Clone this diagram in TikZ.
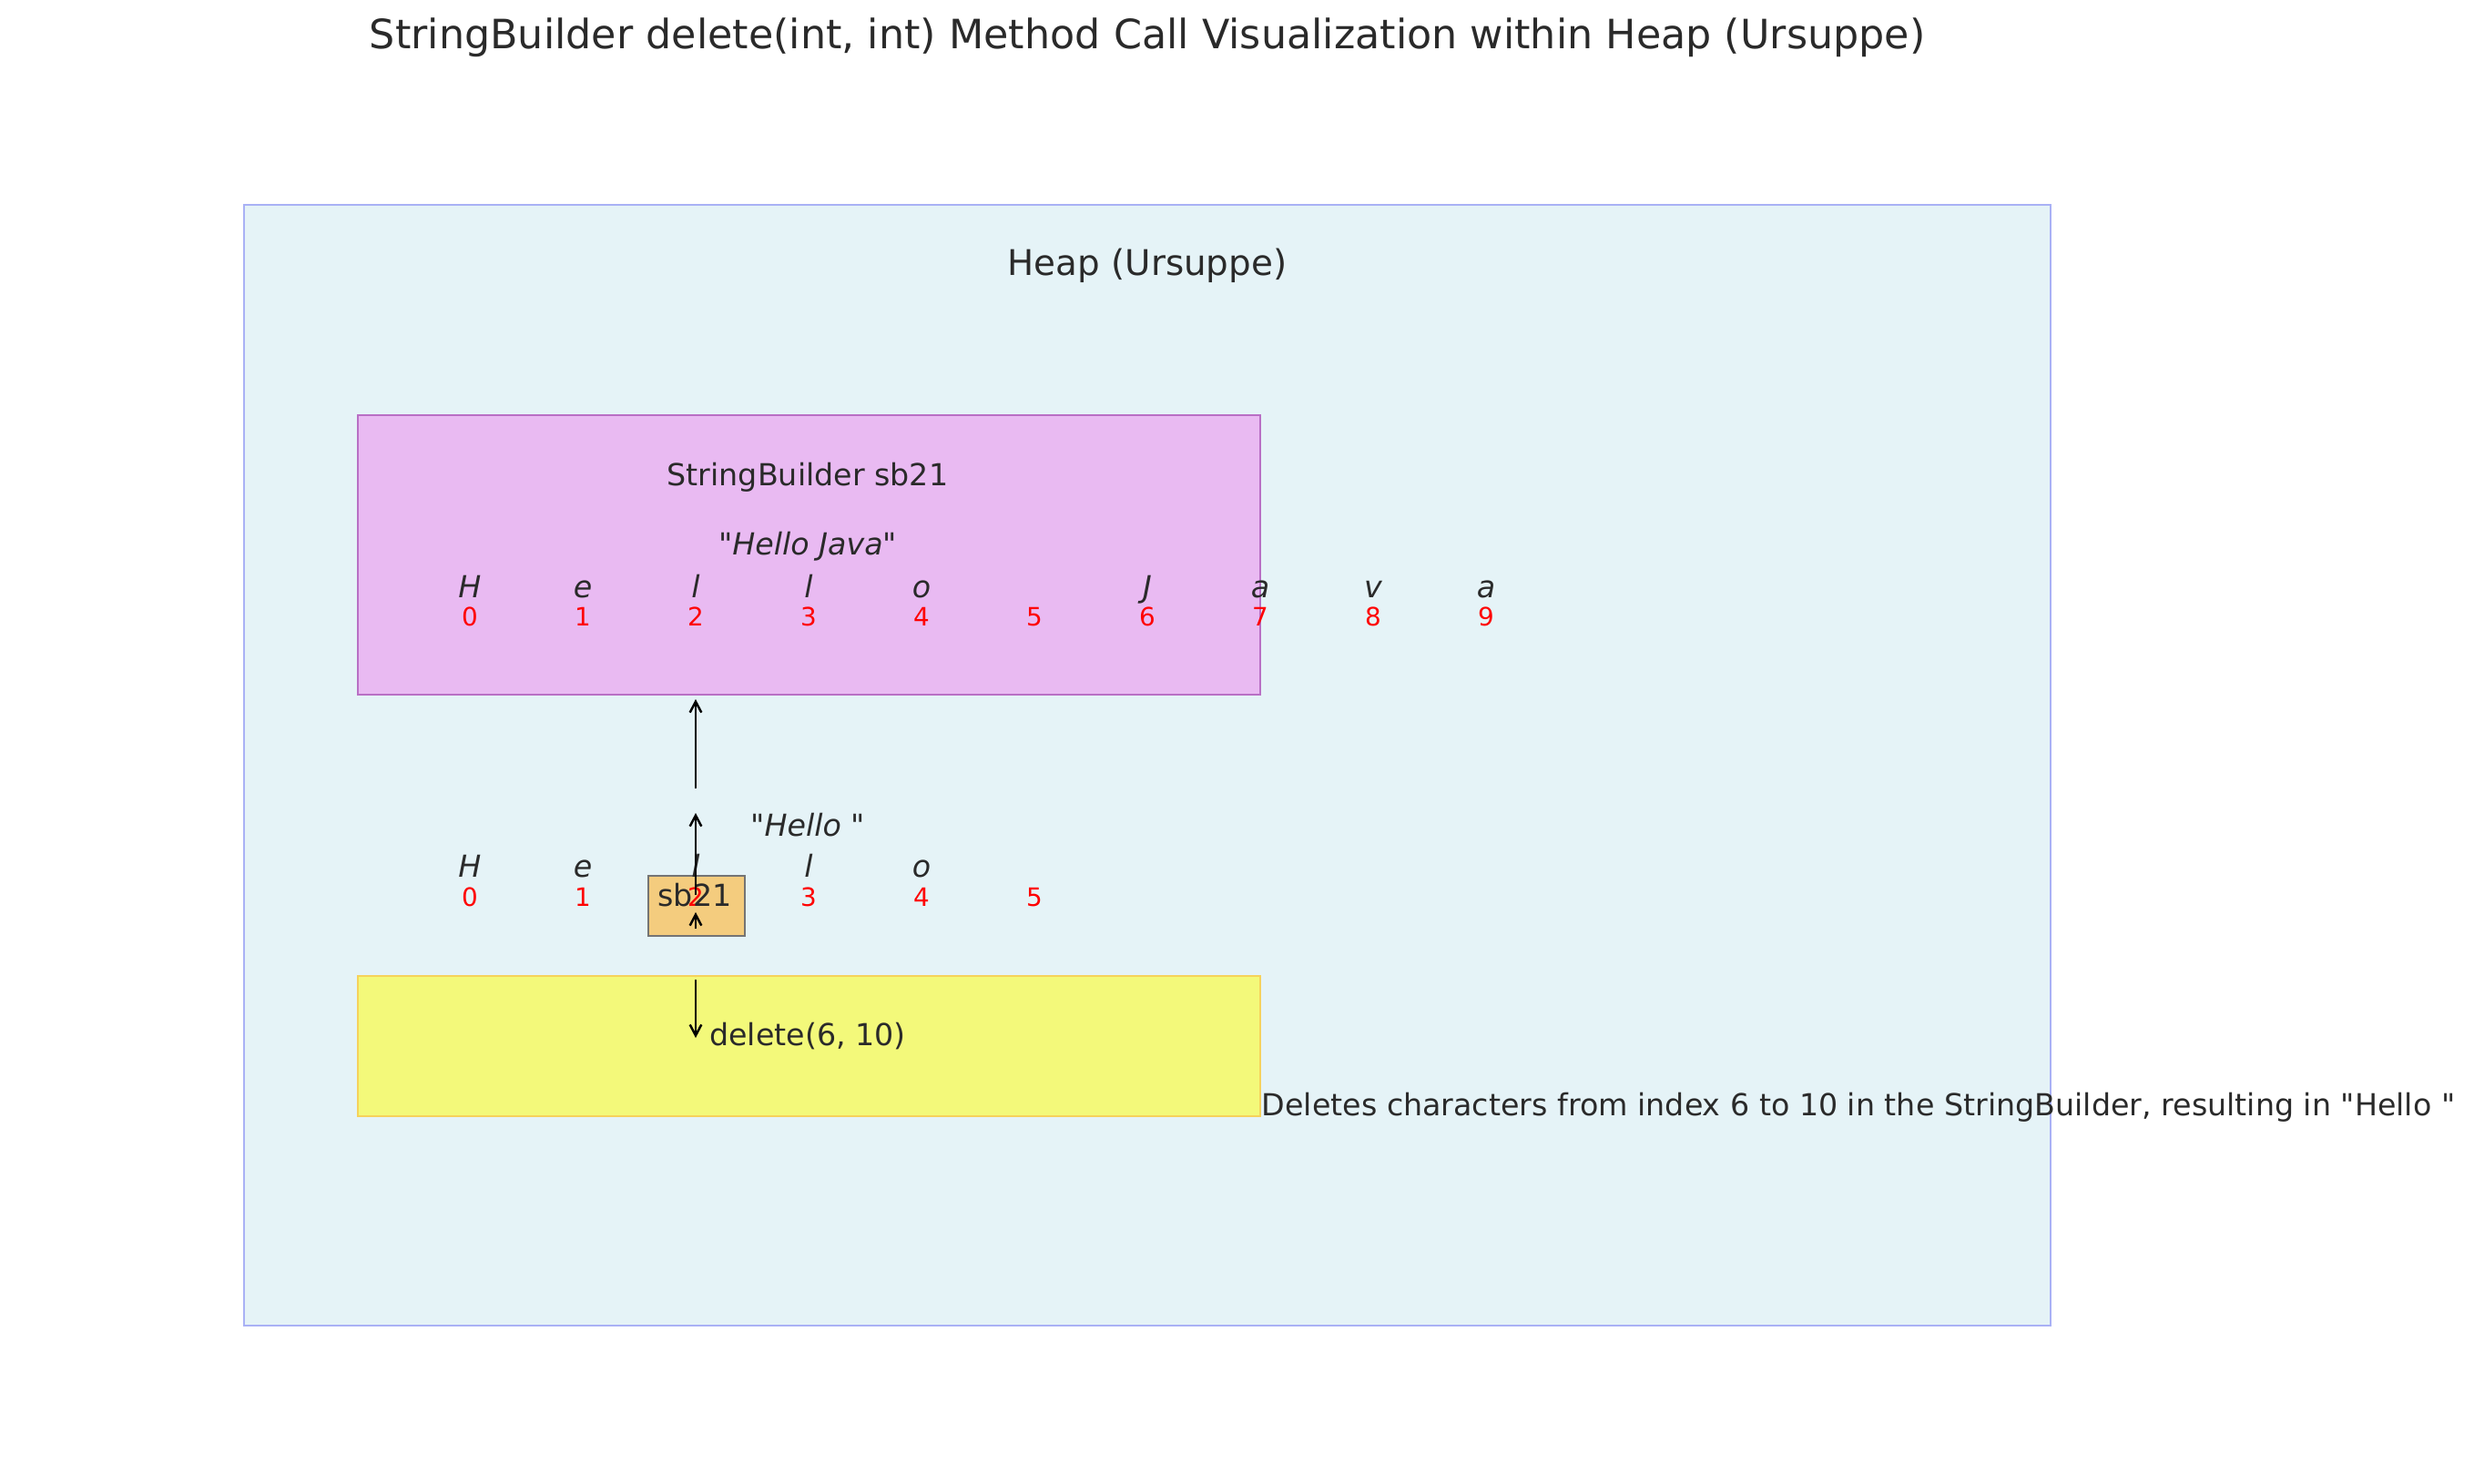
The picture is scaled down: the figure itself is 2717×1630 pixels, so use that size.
\documentclass[tikz,border=0pt]{standalone}
\usepackage{fontspec}
\setmainfont{DejaVu Sans}[Ligatures=TeXOff]
\usetikzlibrary{arrows.meta}
\definecolor{heapfill}{HTML}{E5F3F7}
\definecolor{heapline}{HTML}{A9B1F5}
\definecolor{sbfill}{HTML}{E9BAF2}
\definecolor{sbline}{HTML}{B96FC5}
\definecolor{callfill}{HTML}{F3F97A}
\definecolor{callline}{HTML}{F6D25B}
\definecolor{reffill}{HTML}{F4CC7E}
\definecolor{refline}{HTML}{747474}
\definecolor{txt}{HTML}{2A2A2A}
\definecolor{idx}{HTML}{FF0000}
\begin{document}
\begin{tikzpicture}[x=0.01cm, y=-0.01cm,
 lbl/.style={text=txt, inner sep=0pt, anchor=base, font=\fontsize{9.47}{11}\selectfont},
 chr/.style={lbl, font=\fontsize{9.47}{11}\selectfont\itshape},
 ind/.style={text=idx, inner sep=0pt, anchor=base, font=\fontsize{7.9}{9}\selectfont},
 box/.style={line width=0.8pt},
 ptr/.style={-{Straight Barb[length=3.4pt,width=3.6pt]}, line width=0.7pt, black}]

 \useasboundingbox (0,0) rectangle (2717,1630);

 % title
 \node (title) at (1260,54) [lbl, font=\fontsize{12.63}{15}\selectfont]
 {StringBuilder delete(int, int) Method Call Visualization within Heap (Ursuppe)};

 % heap
 \draw[box, fill=heapfill, draw=heapline] (268,225) rectangle (2252,1456);
 \node (heap) at (1260,302) [lbl, font=\fontsize{11.05}{13}\selectfont] {Heap (Ursuppe)};

 % stringbuilder object
 \draw[box, fill=sbfill, draw=sbline] (393,456) rectangle (1384,763);
 \node (sbname) at (887,533) [lbl] {StringBuilder sb21};
 \node (sbval) at (887,609) [lbl] {"\textit{Hello Java}"};
 \foreach \ch [count=\i from 0] in {H,e,l,l,o,{},J,a,v,a}{
 \node (a\i) at ({516+124*\i},656) [chr] {\ch};
 \node (ai\i) at ({516+124*\i},687) [ind] {\i};
 }

 % method call
 \draw[box, fill=callfill, draw=callline] (393,1072) rectangle (1384,1226);
 \node (call) at (887,1148) [lbl] {delete(6, 10)};
 \node (note) at (1385,1225) [lbl, anchor=base west]
 {Deletes characters from index 6 to 10 in the StringBuilder, resulting in "Hello "};

 % reference box
 \draw[line width=0.8pt, fill=reffill, draw=refline] (712,962) rectangle (818,1028);

 % result
 \node (res) at (887,918) [lbl] {"\textit{Hello} "};
 \foreach \ch [count=\i from 0] in {H,e,l,l,o,{}}{
 \node (b\i) at ({516+124*\i},963) [chr] {\ch};
 \node (bi\i) at ({516+124*\i},995) [ind] {\i};
 }
 \node (ref) at (763,995) [lbl] {sb21};

 % pointers
 \coordinate (p1) at (764,866);
 \coordinate (q1) at (764,768);
 \coordinate (p2) at (764,983);
 \coordinate (q2) at (764,893);
 \coordinate (p3) at (764,1020);
 \coordinate (q3) at (764,1002);
 \coordinate (p4) at (764,1076);
 \coordinate (q4) at (764,1140);
 \draw[ptr] (p1) -- (q1);
 \draw[ptr] (p2) -- (q2);
 \draw[ptr] (p3) -- (q3);
 \draw[ptr] (p4) -- (q4);
\end{tikzpicture}
\end{document}
